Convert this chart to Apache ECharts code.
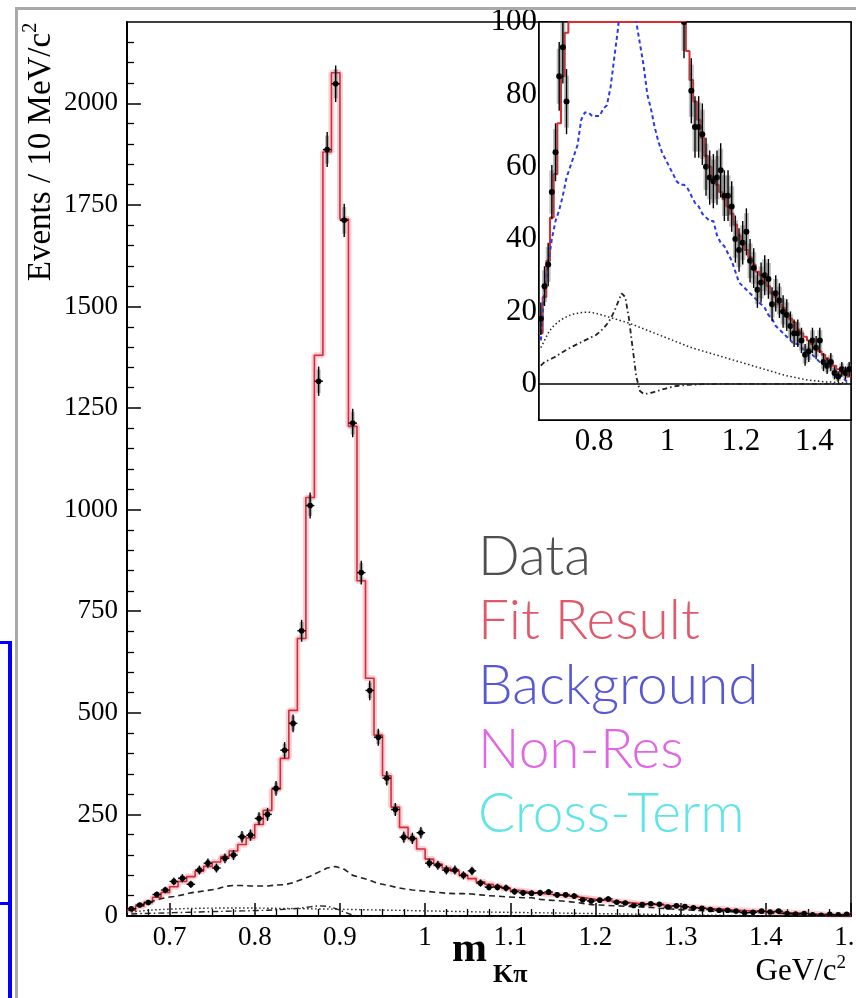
<!DOCTYPE html>
<html><head><meta charset="utf-8">
<script src="https://cdn.jsdelivr.net/npm/echarts@6/dist/echarts.min.js"></script>
<style>html,body{margin:0;padding:0;background:#fff}#c{width:856px;height:998px}</style>
</head><body><div id="c"></div>
<script>
// bin centers (GeV/c^2), 10 MeV bins from 0.65 to 1.50
const binWidth = 0.01;
const binCenters = [0.655,0.665,0.675,0.685,0.695,0.705,0.715,0.725,0.735,0.745,
 0.755,0.765,0.775,0.785,0.795,0.805,0.815,0.825,0.835,0.845,
 0.855,0.865,0.875,0.885,0.895,0.905,0.915,0.925,0.935,0.945,
 0.955,0.965,0.975,0.985,0.995,1.005,1.015,1.025,1.035,1.045,
 1.055,1.065,1.075,1.085,1.095,1.105,1.115,1.125,1.135,1.145,
 1.155,1.165,1.175,1.185,1.195,1.205,1.215,1.225,1.235,1.245,
 1.255,1.265,1.275,1.285,1.295,1.305,1.315,1.325,1.335,1.345,
 1.355,1.365,1.375,1.385,1.395,1.405,1.415,1.425,1.435,1.445,
 1.455,1.465,1.475,1.485,1.495];
const dataCounts = [18,27,33,53,64,85,93,78,113,130,
 118,142,150,195,199,240,250,314,408,474,
 702,1010,1316,1886,2048,1712,1213,845,555,440,
 339,262,194,191,205,130,125,113,113,100,
 111,81,71,71,69,60,57,56,57,59,
 52,52,49,40,37,39,42,34,32,26,
 28,30,29,22,25,23,20,19,16,14,
 14,12,8,9,12,10,12,6,5,6,
 3,2,4,3,4];
const dataErrors = [4.5,5.5,6,7.5,8,9.5,10,9,11,11.5,
 11,12,12.5,14,14,15.5,16,18,20,22,
 27,32,36,43,45,41,35,29,24,21,
 18,16,14,14,14,11.5,11,11,11,10,
 10.5,9,8.5,8.5,8.5,8,7.5,7.5,7.5,7.5,
 7,7,7,6.5,6,6,6.5,6,5.5,5,
 5.5,5.5,5.5,4.7,5,4.8,4.5,4.4,4,3.8,
 3.8,3.5,3,3,3.5,3.2,3.5,2.5,2.3,2.5,
 1.8,1.5,2,1.8,2];
const fitResult = [14,24,34,46,58,72,85,97,110,122,
 133,146,160,176,192,225,260,312,388,506,
 683,1030,1380,1880,2075,1715,1205,825,585,445,
 345,268,218,190,165,140,128,118,110,100,
 92,84,78,73,68,63,60,57,55,53,
 51,49,47,44,41,39,37,35,33,31,
 30,28,27,25,24,22,21,19,18,17,
 15,14,13,12,11,10,9,8,7,6,
 5,4,3,3,2];
const background = [12,26,33,40,45,48,52,57,60,63,
 66,73,75,75,74,74,74,76,77,82,
 90,98,108,118,122,115,100,94,88,80,
 76,71,67,64,62,60,58,56,55,55,
 54,52,50,49,47,46,45,45,41,39,
 38,36,34,31,28,27,26,25,24,23,
 22,21,19,18,16,15,14,13,12,11,
 11,10,9,8,8,7,6,6,5,5,
 4,3,2,1,0];
const nonRes = [10,12,14,15.5,16.5,17.3,18,18.5,19,19.3,
 19.5,19.7,19.8,19.8,19.7,19.5,19.2,18.9,18.6,18.3,
 18,17.7,17.4,17.1,16.8,16.4,16,15.6,15.2,14.8,
 14.4,14,13.6,13.2,12.8,12.4,12,11.6,11.2,10.8,
 10.4,10,9.7,9.4,9.1,8.8,8.5,8.2,7.9,7.6,
 7.3,7,6.7,6.4,6.1,5.8,5.5,5.2,4.9,4.6,
 4.3,4,3.7,3.4,3.1,2.8,2.5,2.2,2,1.8,
 1.6,1.4,1.2,1.0,0.9,0.8,0.7,0.6,0.5,0.5,
 0.4,0.3,0.3,0.2,0.2];
const crossTerm = [5,6,6.5,7,7.5,8.2,8.8,9.4,10,10.5,
 11,11.5,12,12.5,13,13.5,14.3,15.3,16.5,18,
 20,22.5,25,24,18,10,2,-2,-2.8,-2.7,
 -2.5,-2.2,-1.9,-1.6,-1.3,-1.0,-0.8,-0.6,-0.5,-0.4,
 -0.3,-0.2,-0.2,-0.2,-0.1,-0.1,-0.1,-0.1,0,0,
 0,0,0,0,0,0,0,0,0,0,
 0,0,0,0,0,0,0,0,0,0,
 0,0,0,0,0,0,0,0,0,0,
 0,0,0,0,0];
// axis ticks / labels
const mainXMajor = [0.7,0.8,0.9,1.0,1.1,1.2,1.3,1.4,1.5];
const mainYMajor = [0,250,500,750,1000,1250,1500,1750,2000];
const insetXMajor = [0.8,1.0,1.2,1.4];
const insetYMajor = [0,20,40,60,80,100];
const legendLabels = ['Data','Fit Result','Background','Non-Res','Cross-Term'];
const legendColors = ['#505050','#e0586a','#5858d4','#e066e6','#60e4e8'];

// minor ticks
function minors(from, to, step, majors){
  const out=[]; const n=Math.round((to-from)/step);
  for(let i=0;i<=n;i++){const v=+(from+i*step).toFixed(4); if(!majors.some(m=>Math.abs(m-v)<1e-6)) out.push(v);}
  return out;
}
const mainXMinor = minors(0.675,1.5,0.025,mainXMajor);
const mainYMinor = minors(50,2150,50,mainYMajor);
const insetXMinor = minors(0.7,1.45,0.05,insetXMajor);
const insetYMinor = minors(-5,95,5,insetYMajor);

const pts = binCenters.map((x,i)=>[x,dataCounts[i],dataErrors[i]]);
const edges = binCenters.map(c=>+(c-binWidth/2).toFixed(4));
const fitStep = edges.map((x,i)=>[x,fitResult[i]]).concat([[1.5,fitResult[fitResult.length-1]]]);
const fitStepInset = edges.map((x,i)=>[x,Math.min(fitResult[i],100)]).concat([[1.5,fitResult[fitResult.length-1]]]);
const pair = arr => binCenters.map((x,i)=>[x,arr[i]]);

const serif = "'Liberation Serif','DejaVu Serif',serif";
function renderPoint(boxW, r, boxAlpha){
  return function(params, api){
    const x=api.value(0), y=api.value(1), e=api.value(2);
    const c=api.coord([x,y]), t=api.coord([x,y+e]), b=api.coord([x,y-e]);
    const l=api.coord([x-binWidth/2,y]), rr=api.coord([x+binWidth/2,y]);
    const bt=api.coord([x,y+0.8*e]), bb=api.coord([x,y-0.8*e]);
    return {type:'group', children:[
      {type:'rect', shape:{x:c[0]-boxW/2,y:bt[1],width:boxW,height:bb[1]-bt[1]}, style:{fill:'rgba(95,95,95,'+boxAlpha+')'}},
      {type:'line', shape:{x1:c[0],y1:t[1],x2:c[0],y2:b[1]}, style:{stroke:'#000',lineWidth:1.4}},
      {type:'line', shape:{x1:l[0],y1:c[1],x2:rr[0],y2:c[1]}, style:{stroke:'#000',lineWidth:1.4}},
      {type:'circle', shape:{cx:c[0],cy:c[1],r:r}, style:{fill:'#000'}}
    ]};
  };
}

function xAxes(grid, majors, minorsArr, labelSize, majorLen, minorLen, margin){
  return [
    {type:'value', gridIndex:grid, min:0.65, max:1.5, position:'bottom',
     axisLine:{show:true,onZero:false,lineStyle:{color:'#000',width:2}},
     axisTick:{show:true,inside:true,length:majorLen,customValues:majors,lineStyle:{color:'#000',width:1.5}},
     axisLabel:{show:true,customValues:majors,fontFamily:serif,fontSize:labelSize,color:'#000',margin:margin,
       formatter:v=>String(Math.round(v*10)/10)},
     splitLine:{show:false}},
    {type:'value', gridIndex:grid, min:0.65, max:1.5, position:'bottom',
     axisLine:{show:false,onZero:false},
     axisTick:{show:true,inside:true,length:minorLen,customValues:minorsArr,lineStyle:{color:'#000',width:1.3}},
     axisLabel:{show:false}, splitLine:{show:false}}
  ];
}
function yAxes(grid, min, max, majors, minorsArr, labelSize, majorLen, minorLen, margin){
  return [
    {type:'value', gridIndex:grid, min:min, max:max, position:'left',
     axisLine:{show:true,onZero:false,lineStyle:{color:'#000',width:2}},
     axisTick:{show:true,inside:true,length:majorLen,customValues:majors,lineStyle:{color:'#000',width:1.5}},
     axisLabel:{show:true,customValues:majors,fontFamily:serif,fontSize:labelSize,color:'#000',margin:margin,
       formatter:v=>String(v)},
     splitLine:{show:false}},
    {type:'value', gridIndex:grid, min:min, max:max, position:'left',
     axisLine:{show:false,onZero:false},
     axisTick:{show:true,inside:true,length:minorLen,customValues:minorsArr,lineStyle:{color:'#000',width:1.3}},
     axisLabel:{show:false}, splitLine:{show:false}}
  ];
}

const chart = echarts.init(document.getElementById('c'), null, {renderer:'canvas'});
const graphics = [
  {type:'rect', shape:{x:15,y:7,width:841,height:3}, style:{fill:'#a9a9a9'}, z:100},
  {type:'rect', shape:{x:15,y:7,width:3,height:991}, style:{fill:'#a9a9a9'}, z:100},
  {type:'rect', shape:{x:8,y:641,width:4,height:357}, style:{fill:'#0000ff'}, z:100},
  {type:'rect', shape:{x:0,y:641,width:11,height:3}, style:{fill:'#0000ff'}, z:100},
  {type:'rect', shape:{x:0,y:902,width:11,height:3}, style:{fill:'#0000ff'}, z:100},
  {type:'text', x:41, y:152, rotation:Math.PI/2, z:100,
   style:{text:'{a|Events / 10 MeV/c}{b|2}', align:'center', verticalAlign:'middle',
     rich:{a:{fontFamily:serif,fontSize:33,fill:'#000',lineHeight:40}, b:{fontFamily:serif,fontSize:20,fill:'#000',verticalAlign:'top',lineHeight:40}}}},
  {type:'text', x:452, y:950, z:100, style:{text:'m', font:"bold 42px 'Liberation Serif'", fill:'#000', align:'left', verticalAlign:'middle'}},
  {type:'text', x:493, y:975, z:100, style:{text:'Kπ', font:"bold 26px 'Liberation Serif'", fill:'#000', align:'left', verticalAlign:'middle'}},
  {type:'text', x:846, y:972, z:100,
   style:{text:'{a|GeV/c}{b|2}', align:'right', verticalAlign:'middle',
     rich:{a:{fontFamily:serif,fontSize:31,fill:'#000',lineHeight:36}, b:{fontFamily:serif,fontSize:19,fill:'#000',verticalAlign:'top',lineHeight:36}}}}
];
const legendY = [557,621,686,750,814];
legendLabels.forEach((t,i)=>{
  graphics.push({type:'text', x:478, y:legendY[i], z:100,
    style:{text:t, fontFamily:"Lato,'DejaVu Sans'", fontWeight:300, fontSize:55, fill:legendColors[i], align:'left', verticalAlign:'middle'}});
});

chart.setOption({
  animation:false,
  backgroundColor:'#fff',
  grid:[
    {left:127, right:5, top:22, bottom:82, show:true, borderColor:'#000', borderWidth:1.5, backgroundColor:'transparent', containLabel:false, outerBoundsMode:'none'},
    {left:539, right:5, top:22, height:398, show:true, borderColor:'#000', borderWidth:1.5, backgroundColor:'#fff', z:5, containLabel:false, outerBoundsMode:'none'}
  ],
  xAxis:[].concat(
    xAxes(0, mainXMajor, mainXMinor, 27, 13, 7, 8),
    xAxes(1, insetXMajor, insetXMinor, 31, 15, 8, 6)),
  yAxis:[].concat(
    yAxes(0, 0, 2200, mainYMajor, mainYMinor, 27, 14, 7, 9),
    yAxes(1, -10, 100, insetYMajor, insetYMinor, 31, 13, 7, 2)),
  graphic:graphics,
  series:[
    // main plot
    {type:'line', xAxisIndex:0, yAxisIndex:0, data:fitStep, step:'end', symbol:'none', silent:true,
     lineStyle:{color:'rgba(236,120,130,0.35)', width:6}, z:2},
    {type:'line', xAxisIndex:0, yAxisIndex:0, data:fitStep, step:'end', symbol:'none', silent:true,
     lineStyle:{color:'#d42a3c', width:1.6}, z:3},
    {type:'line', xAxisIndex:0, yAxisIndex:0, data:pair(background), symbol:'none', silent:true,
     lineStyle:{color:'#222', width:1.6, type:[6,4]}, z:3},
    {type:'line', xAxisIndex:0, yAxisIndex:0, data:pair(nonRes), symbol:'none', silent:true,
     lineStyle:{color:'#222', width:1.4, type:[1.5,2.5]}, z:3},
    {type:'line', xAxisIndex:0, yAxisIndex:0, data:pair(crossTerm), symbol:'none', silent:true,
     lineStyle:{color:'#222', width:1.4, type:[6,3,1.5,3]}, z:3},
    {type:'custom', xAxisIndex:0, yAxisIndex:0, data:pts, renderItem:renderPoint(4,2.8,0.45), clip:true, silent:true, z:4},
    // inset
    {type:'line', xAxisIndex:2, yAxisIndex:2, data:fitStepInset, step:'end', symbol:'none', silent:true,
     lineStyle:{color:'#e02a30', width:2}, z:10,
     markLine:{silent:true, symbol:'none', label:{show:false}, data:[{yAxis:0}], lineStyle:{color:'#000', type:'solid', width:1.6}}},
    {type:'line', xAxisIndex:2, yAxisIndex:2, data:pair(background), symbol:'none', silent:true,
     lineStyle:{color:'#2a3ae6', width:2, type:[4,3]}, z:10},
    {type:'line', xAxisIndex:2, yAxisIndex:2, data:pair(nonRes), symbol:'none', silent:true,
     lineStyle:{color:'#222', width:1.5, type:[1.5,2.5]}, z:10},
    {type:'line', xAxisIndex:2, yAxisIndex:2, data:pair(crossTerm), symbol:'none', silent:true,
     lineStyle:{color:'#222', width:1.8, type:[5,3,1.5,3]}, z:10},
    {type:'custom', xAxisIndex:2, yAxisIndex:2, data:pts, renderItem:renderPoint(5,3,0.4), clip:true, silent:true, z:11}
  ]
});
</script></body></html>
